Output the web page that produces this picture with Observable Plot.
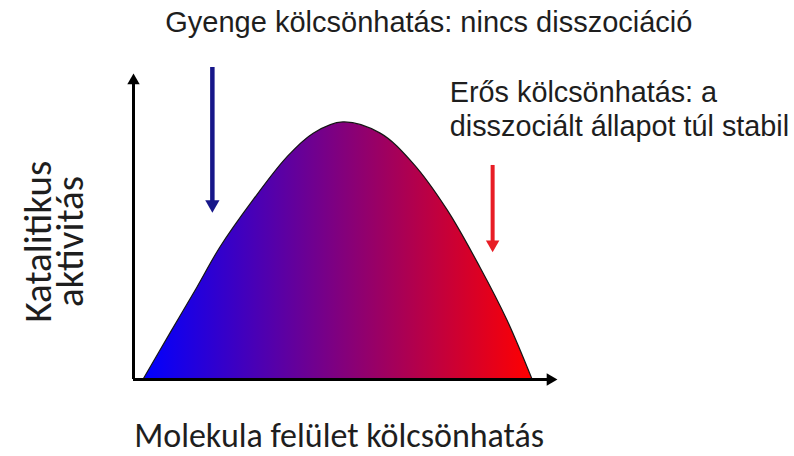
<!DOCTYPE html>
<html>
<head>
<meta charset="utf-8">
<script src="https://cdn.jsdelivr.net/npm/d3@7"></script>
<script src="https://cdn.jsdelivr.net/npm/@observablehq/plot@0.6"></script>
<style>
  html, body { margin: 0; padding: 0; background: #fff; }
  #chart svg { display: block; }
</style>
</head>
<body>
<div id="chart"></div>
<script>
// Volcano curve: catalytic activity against strength of the surface interaction
const surface  = [2.4, 8.7, 15.1, 20.5, 28.3, 36.3, 42.5, 49.5, 58.3, 66.0, 74.1, 81.8, 88.2, 94.1];
const activity = [0, 14.7, 29.5, 42.3, 57.4, 71.2, 78.8, 82.4, 78.8, 69.2, 54.2, 35.9, 18.9, 0];

// Annotation arrows (x, top of shaft, position of the head)
const weakArrow   = {x: 18.6, top: 100, head: 56.1};
const strongArrow = {x: 84.7, top: 68.6, head: 43.3};

// Texts
const titleText  = "Gyenge kölcsönhatás: nincs disszociáció";
const strongText = "Erős kölcsönhatás: a\ndisszociált állapot túl stabil";
const xLabel     = "Molekula felület kölcsönhatás";
const yLabel     = "Katalitikus\naktivitás";

const curve = surface.map((x, i) => ({x, y: activity[i]}));

const sans = "Arial, 'Liberation Sans', sans-serif";
const humanist = "Calibri, Carlito, Lato, sans-serif";

// Horizontal blue → red fill for the area under the curve
const gradient = () => {
  const defs = d3.create("svg:defs");
  const g = defs.append("linearGradient")
    .attr("id", "volcano-fill")
    .attr("x1", "0").attr("x2", "1").attr("y1", "0").attr("y2", "0");
  g.append("stop").attr("offset", "0%").attr("stop-color", "#0000ff");
  g.append("stop").attr("offset", "100%").attr("stop-color", "#ff0000");
  return defs.node();
};

const chart = Plot.plot({
  width: 794,
  height: 456,
  marginLeft: 133,
  marginRight: 237,
  marginTop: 67,
  marginBottom: 77,
  x: {domain: [0, 100], axis: null},
  y: {domain: [0, 100], axis: null},
  style: {background: "#fff", overflow: "visible"},
  marks: [
    gradient,
    Plot.areaY(curve, {
      x: "x", y: "y", curve: "catmull-rom",
      fill: "url(#volcano-fill)", stroke: "#151515", strokeWidth: 1.2
    }),
    // axes with arrowheads
    Plot.ruleX([0], {y1: 0, y2: 95.8, stroke: "#000", strokeWidth: 3}),
    Plot.ruleY([0], {x1: 0, x2: 98.3, stroke: "#000", strokeWidth: 3}),
    Plot.dot([{x: 0, y: 95.8}], {x: "x", y: "y", symbol: "triangle", r: 4.6, fill: "#000", stroke: null}),
    Plot.dot([{x: 98.3, y: 0}], {x: "x", y: "y", symbol: "triangle", rotate: 90, r: 4.6, fill: "#000", stroke: null}),
    // weak interaction arrow
    Plot.ruleX([weakArrow], {x: "x", y1: "top", y2: "head", stroke: "#17178a", strokeWidth: 4.5}),
    Plot.dot([weakArrow], {x: "x", y: "head", symbol: "triangle", rotate: 180, r: 5.3, fill: "#17178a", stroke: null}),
    // strong interaction arrow
    Plot.ruleX([strongArrow], {x: "x", y1: "top", y2: "head", stroke: "#e81d25", strokeWidth: 4}),
    Plot.dot([strongArrow], {x: "x", y: "head", symbol: "triangle", rotate: 180, r: 5, fill: "#e81d25", stroke: null}),
    // texts
    Plot.text([titleText], {
      x: 7.5, y: 111.5, text: d => d, textAnchor: "start", lineAnchor: "bottom",
      fontFamily: sans, fontSize: 29, fill: "#1e1e1e"
    }),
    Plot.text([strongText], {
      x: 74.6, y: 78.0, text: d => d, textAnchor: "start", lineAnchor: "bottom",
      lineHeight: 1.17, fontFamily: sans, fontSize: 28.8, fill: "#1e1e1e"
    }),
    Plot.text([xLabel], {
      x: 48.5, y: -21.5, text: d => d, textAnchor: "middle", lineAnchor: "bottom",
      fontFamily: humanist, fontSize: 34, fill: "#1e1e1e"
    }),
    Plot.text([yLabel], {
      x: -12.0, y: 44.2, text: d => d, textAnchor: "middle", lineAnchor: "bottom",
      rotate: -90, lineHeight: 0.8, fontFamily: humanist, fontSize: 39, fill: "#1e1e1e"
    })
  ]
});

document.getElementById("chart").append(chart);
</script>
</body>
</html>
